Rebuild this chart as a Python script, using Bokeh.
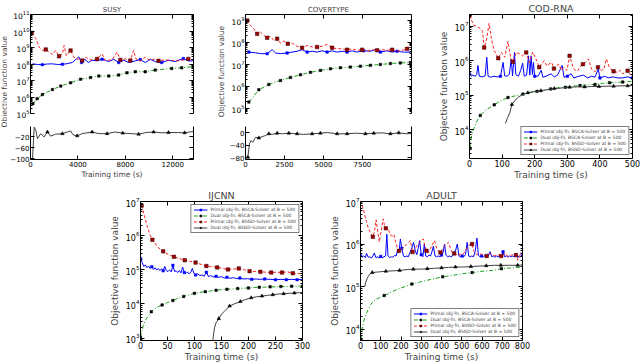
from bokeh.plotting import figure
from bokeh.models import (Range1d, FixedTicker, LinearAxis, LogAxis, Label, Legend, LegendItem, Spacer,
                          CustomJSTickFormatter)
from bokeh.layouts import row, column
from bokeh.embed import file_html
from bokeh.resources import INLINE

FONT = "DejaVu Sans"

# ----------------------------------------------------------------- data
TITLES = ["SUSY", "COVERTYPE", "COD-RNA", "IJCNN", "ADULT"]
XLABEL = "Training time (s)"
YLABEL = "Objective function value"
LEGEND_LABELS = [
    "Primal obj-fn, BSCA-Solver at B = 500",
    "Dual obj-fn, BSCA-Solver at B = 500",
    "Primal obj-fn, BSGD-Solver at B = 500",
    "Dual obj-fn, BSGD-Solver at B = 500",
]

# SUSY (values given as log10 of the objective; bottom panel is linear)
susy_pb_t = [170, 590, 1000, 1420, 1850, 2270, 2690, 3100, 3520, 4080, 4310, 4590, 4870, 5200, 5620, 6040,
             6600, 7020, 7440, 7860, 8280, 8840, 9260, 9680, 10100, 10520, 11070, 11630, 12190, 12890, 13310, 13730]
susy_pb_log10 = [8.01, 7.97, 7.96, 8.0, 8.01, 7.97, 7.98, 8.02, 8.09, 8.43, 8.09, 8.29, 8.09, 8.23, 8.19, 8.29,
                 8.15, 8.29, 8.09, 8.23, 8.09, 8.19, 8.27, 8.09, 8.29, 8.15, 8.09, 8.23, 8.15, 8.33, 8.19, 8.19]
susy_pb_marks = [1000, 2690, 4310, 6040, 7440, 9260, 11070, 12890]
susy_pg_t = [110, 450, 730, 1010, 1290, 1570, 1850, 2130, 2410, 2690, 2830, 3020, 3380, 3660, 3940, 4360, 4640,
             5060, 5620, 6040, 6320, 6880, 7300, 7580, 8000, 8420, 8700, 8890, 9260, 9680, 10100, 10520, 10800,
             11350, 11910, 12470, 13310, 13730]
susy_pg_log10 = [9.89, 9.53, 9.02, 8.82, 8.88, 8.72, 8.58, 8.82, 8.47, 8.61, 9.12, 8.5, 8.82, 8.41, 8.31, 8.21,
                 8.41, 8.25, 8.31, 8.61, 8.21, 8.25, 8.72, 8.25, 8.31, 8.21, 8.82, 8.31, 8.19, 8.41, 8.21, 8.31,
                 8.19, 8.25, 8.21, 8.19, 8.31, 8.25]
susy_pg_marks = [110, 1290, 2410, 3380, 4360, 5620, 7580, 8420, 10800, 13310]
susy_dc_t = [200, 560, 1010, 1850, 2550, 3380, 4220, 5060, 5760, 6600, 7440, 8140, 8840, 9680, 10520, 11910,
             12750, 13730]
susy_dc_log10 = [5.59, 5.9, 6.15, 6.45, 6.66, 6.86, 7.08, 7.18, 7.27, 7.27, 7.33, 7.47, 7.53, 7.53, 7.63, 7.73,
                 7.77, 7.84]
susy_dc_marks = susy_dc_t
susy_dg_t = [170, 310, 445, 590, 860, 1150, 1430, 1700, 2120, 2690, 3100, 3380, 3580, 3940, 4360, 5200, 5790,
             6460, 7130, 7780, 8560, 9120, 9730, 10380, 11080, 11640, 12420, 13000, 13730]
susy_dg_val = [-100, 16, 4, -26, -8, -20, -2, -17, -10, -8, -2, 2, -12, -16, -8, -2, -8, -8, -2, -6, -8, -10,
               -4, -2, -5, -4, -4, -5, 0]
susy_dg_marks = [1430, 2690, 3940, 5200, 6460, 7780, 9120, 10380, 11640, 13000]

# COVERTYPE
cov_pb_t = [214, 641, 962, 1389, 1709, 1923, 2244, 2671, 3312, 3633, 3953, 4274, 4594, 4915, 5236, 5556, 5877,
            6197, 6518, 6838, 7159, 7586, 8014, 8335, 8655, 9083, 9403, 9724, 10151, 10621]
cov_pb_log10 = [7.56, 7.53, 7.49, 7.49, 7.67, 7.52, 7.49, 7.52, 7.6, 7.67, 7.56, 7.6, 7.56, 7.62, 7.56, 7.62,
                7.56, 7.6, 7.56, 7.62, 7.56, 7.62, 7.6, 7.67, 7.56, 7.62, 7.56, 7.6, 7.56, 7.56]
cov_pb_marks = [214, 1389, 2671, 3953, 5236, 6518, 7586, 8655, 9724]
cov_pg_t = [107, 320, 534, 748, 962, 1175, 1389, 1603, 1816, 2030, 2244, 2457, 2714, 2992, 3312, 3633, 3953,
            4274, 4594, 4915, 5236, 5556, 5877, 6197, 6518, 6838, 7159, 7480, 7800, 8121, 8442, 8762, 9083,
            9403, 9724, 10044, 10365, 10621]
cov_pg_log10 = [9.0, 8.77, 8.62, 8.39, 8.47, 8.32, 8.21, 8.27, 8.09, 8.17, 7.97, 8.06, 7.94, 7.97, 7.82, 7.76,
                7.86, 7.79, 7.79, 7.82, 7.91, 7.76, 7.71, 7.71, 7.67, 7.71, 7.64, 7.67, 7.6, 7.67, 7.64, 7.67,
                7.64, 7.67, 7.6, 7.64, 7.71, 7.79]
cov_pg_marks = [107, 748, 1389, 2030, 2714, 3633, 4594, 5556, 6518, 7480, 8442, 9403, 10365]
cov_dc_t = [214, 855, 1496, 2244, 2885, 3526, 4167, 4808, 5450, 6090, 6730, 7372, 8013, 8654, 9295, 9936, 10577]
cov_dc_log10 = [5.29, 5.85, 6.09, 6.27, 6.41, 6.53, 6.64, 6.73, 6.8, 6.85, 6.88, 6.92, 6.96, 7.0, 7.04, 7.07,
                7.09]
cov_dc_marks = cov_dc_t
cov_dg_t = [150, 256, 363, 470, 641, 855, 1068, 1282, 1496, 1709, 2030, 2350, 2778, 3312, 3740, 4274, 4808,
            5236, 5877, 6518, 7052, 7693, 8228, 8762, 9296, 9830, 10365, 10621]
cov_dg_val = [-78, -36, -25, -31, -15, -17, -13, -9.5, -4, -6, -2, -4, -2, -4, -6, -4, -2, 0, -4, -4, -2, -4,
              -2, -1, -4, -1, -4, -3]
cov_dg_marks = [150, 855, 1496, 2030, 2778, 3312, 4274, 4808, 5877, 6518, 7693, 8228, 9296, 9830]

# COD-RNA
cod_pb_t = [0, 5, 10, 18, 22, 26, 30, 40, 48, 53, 57, 65, 75, 85, 95, 103, 108, 115, 122, 128, 132, 138, 142,
            150, 157, 163, 168, 175, 181, 185, 189, 193, 196, 200, 210, 220, 225, 235, 250, 260, 270, 284, 290,
            300, 312, 320, 335, 350, 362, 375, 385, 395, 400, 415, 425, 440, 455, 470, 485, 500]
cod_pb_log10 = [5.62, 5.55, 5.58, 5.55, 5.6, 5.86, 5.55, 5.53, 5.56, 6.1, 5.55, 5.52, 5.55, 5.53, 5.55, 5.95,
                5.56, 5.55, 5.6, 6.05, 5.56, 6.24, 5.6, 5.55, 5.72, 5.93, 5.55, 5.58, 6.14, 5.58, 6.14, 5.6,
                5.95, 5.55, 5.55, 5.72, 5.52, 5.55, 5.62, 5.53, 5.58, 5.86, 5.52, 5.55, 5.62, 5.5, 5.55, 5.58,
                5.5, 5.55, 5.52, 5.76, 5.5, 5.55, 5.5, 5.53, 5.5, 5.5, 5.53, 5.5]
cod_pb_marks = [0, 95, 200, 300, 400, 500]
cod_pg_t = [0, 6, 13, 20, 27, 33, 40, 45, 52, 60, 68, 75, 82, 88, 98, 108, 118, 128, 133, 143, 153, 163, 174,
            184, 194, 204, 214, 222, 229, 237, 244, 252, 259, 267, 274, 282, 289, 299, 307, 318, 326, 333, 341,
            348, 356, 365, 375, 385, 394, 405, 412, 420, 430, 442, 455, 463, 470, 478, 485, 495, 500]
cod_pg_log10 = [7.31, 7.18, 7.03, 7.0, 6.96, 6.94, 6.85, 6.38, 6.6, 7.08, 6.6, 6.3, 6.2, 6.07, 6.24, 6.1, 6.56,
                6.0, 5.97, 6.24, 6.2, 6.14, 6.24, 5.95, 6.25, 6.05, 5.81, 5.92, 6.0, 5.85, 5.9, 5.95, 5.77, 5.86,
                5.9, 5.72, 5.8, 5.72, 6.14, 5.8, 5.7, 5.72, 5.85, 5.9, 5.95, 6.05, 5.75, 5.68, 5.81, 5.72, 5.75,
                6.05, 5.78, 5.69, 5.66, 5.72, 5.62, 5.66, 5.71, 5.58, 5.56]
cod_pg_marks = [0, 45, 88, 133, 174, 214, 259, 307, 348, 394, 442, 485]
cod_dc_t = [2, 5, 10, 22, 33, 50, 76, 95, 118, 140, 164, 185, 207, 230, 249, 270, 294, 315, 339, 362, 385, 408,
            430, 450, 470, 500]
cod_dc_log10 = [3.45, 3.75, 3.95, 4.23, 4.41, 4.57, 4.72, 4.83, 4.93, 4.98, 5.03, 5.08, 5.11, 5.15, 5.18, 5.21,
                5.23, 5.26, 5.28, 5.3, 5.31, 5.34, 5.36, 5.37, 5.38, 5.4]
cod_dc_marks = [2, 33, 76, 118, 164, 207, 249, 294, 339, 385, 430, 470]
cod_dg_t = [110, 117, 124, 130, 139, 148, 160, 179, 198, 219, 240, 260, 285, 307, 330, 353, 375, 397, 420, 442,
            465, 485, 500]
cod_dg_log10 = [4.18, 4.35, 4.5, 4.73, 4.84, 4.93, 5.0, 5.07, 5.1, 5.13, 5.16, 5.19, 5.21, 5.23, 5.24, 5.24,
                5.25, 5.25, 5.26, 5.26, 5.27, 5.27, 5.28]
cod_dg_marks = [130, 179, 219, 260, 307, 353, 397, 442, 485]

# IJCNN
ij_pb_t = [0, 3, 6, 9, 12, 15, 18, 21, 24, 27, 30, 33, 36, 39, 42, 45, 48, 51, 54, 57, 60, 63, 66, 69, 72, 75,
           78, 81, 84, 87, 90, 93, 96, 99, 102, 106, 110, 114, 118, 122, 126, 130, 135, 140, 145, 150, 155, 160,
           166, 172, 178, 184, 190, 198, 206, 214, 222, 230, 240, 250, 260, 270, 280, 290, 300]
ij_pb_log10 = [5.33, 5.22, 5.1, 5.14, 5.06, 5.11, 5.04, 5.09, 5.01, 5.06, 4.99, 5.04, 4.98, 5.03, 4.97, 5.1,
               4.97, 4.95, 5.0, 4.94, 5.13, 4.95, 4.97, 4.92, 4.98, 4.91, 5.08, 4.92, 4.89, 4.94, 4.88, 4.92,
               5.04, 4.89, 4.85, 4.88, 4.83, 4.85, 4.81, 4.93, 4.8, 4.83, 4.79, 4.81, 4.78, 4.8, 4.76, 4.78,
               4.75, 4.77, 4.74, 4.76, 4.73, 4.74, 4.72, 4.73, 4.72, 4.73, 4.72, 4.71, 4.72, 4.71, 4.72, 4.71,
               4.72]
ij_pb_marks = [0, 21, 42, 60, 81, 102, 122, 140, 160, 184, 206, 230, 250, 270, 290]
ij_pg_t = [2, 7, 12, 17, 22, 32, 42, 52, 62, 72, 82, 92, 102, 112, 122, 132, 142, 152, 162, 172, 182, 192, 202,
           212, 222, 232, 242, 252, 262, 272, 282, 292, 300]
ij_pg_log10 = [6.88, 6.6, 6.3, 6.05, 5.88, 5.66, 5.54, 5.44, 5.38, 5.33, 5.28, 5.25, 5.21, 5.16, 5.11, 5.09,
               5.07, 5.04, 5.01, 5.02, 5.04, 5.0, 4.96, 4.95, 4.94, 4.93, 4.92, 4.93, 4.92, 4.94, 4.9, 4.89, 4.9]
ij_pg_marks = [2, 22, 42, 62, 82, 102, 122, 142, 162, 182, 202, 222, 242, 262, 282]
ij_dc_t = [0, 5, 10, 20, 30, 40, 50, 60, 70, 80, 90, 100, 110, 120, 130, 140, 150, 160, 170, 180, 190, 200, 210,
           220, 230, 240, 250, 260, 270, 280, 290, 300]
ij_dc_log10 = [3.02, 3.37, 3.55, 3.77, 3.9, 3.97, 4.04, 4.1, 4.17, 4.22, 4.27, 4.31, 4.34, 4.36, 4.38, 4.4,
               4.42, 4.43, 4.44, 4.45, 4.46, 4.47, 4.48, 4.49, 4.49, 4.5, 4.5, 4.51, 4.51, 4.52, 4.52, 4.52]
ij_dc_marks = [0, 20, 40, 60, 80, 100, 120, 140, 160, 180, 200, 220, 240, 260, 280, 300]
ij_dg_t = [134, 137, 140, 145, 150, 155, 165, 175, 185, 195, 205, 215, 225, 235, 245, 255, 265, 275, 285, 295,
           300]
ij_dg_log10 = [2.95, 3.3, 3.45, 3.57, 3.7, 3.78, 3.94, 4.01, 4.07, 4.13, 4.18, 4.21, 4.23, 4.25, 4.27, 4.29,
               4.3, 4.31, 4.32, 4.33, 4.34]
ij_dg_marks = [145, 165, 185, 205, 225, 245, 265, 285]

# ADULT
ad_pb_t = [0, 8, 16, 24, 30, 38, 46, 54, 62, 68, 76, 84, 92, 100, 108, 116, 124, 130, 136, 144, 152, 160, 168,
           176, 184, 190, 197, 204, 212, 220, 228, 236, 244, 252, 262, 270, 278, 285, 292, 300, 308, 315, 322,
           330, 338, 346, 353, 360, 368, 376, 384, 392, 400, 408, 415, 422, 430, 438, 446, 454, 462, 470, 478,
           486, 494, 502, 510, 518, 527, 534, 542, 550, 558, 566, 575, 582, 590, 598, 606, 614, 622, 630, 640,
           648, 656, 664, 672, 680, 688, 696, 704, 712, 720, 728, 736, 744, 752, 760, 768, 776, 784, 792, 800]
ad_pb_log10 = [5.73, 5.69, 5.72, 5.68, 5.78, 5.69, 5.7, 5.67, 5.72, 5.79, 5.68, 5.7, 5.67, 5.71, 5.68, 5.7,
               5.72, 6.23, 5.72, 5.68, 5.7, 5.69, 5.73, 5.72, 5.86, 5.8, 6.12, 5.9, 5.72, 5.7, 5.72, 5.7, 5.8,
               5.88, 6.04, 5.85, 5.75, 5.9, 6.08, 5.75, 5.7, 6.0, 5.72, 5.7, 5.74, 5.72, 5.82, 5.95, 5.72, 5.7,
               5.72, 5.7, 5.74, 5.8, 6.0, 5.74, 5.7, 5.72, 5.7, 5.72, 5.8, 5.86, 6.0, 5.72, 5.7, 5.72, 5.7, 5.75,
               6.04, 5.72, 5.7, 5.72, 5.7, 5.82, 6.14, 5.74, 5.7, 5.72, 5.7, 5.73, 5.7, 5.72, 5.82, 5.7, 5.72,
               5.69, 5.72, 5.7, 5.72, 5.7, 5.82, 5.7, 5.72, 5.69, 5.72, 5.7, 5.72, 5.7, 5.78, 5.68, 5.72, 5.7,
               5.74]
ad_pb_marks = [0, 100, 204, 300, 400, 502, 598, 704, 800]
ad_pg_t = [0, 7, 13, 20, 29, 37, 45, 53, 61, 69, 77, 85, 93, 102, 112, 118, 125, 135, 145, 155, 165, 173, 181,
           190, 198, 208, 218, 228, 237, 246, 257, 267, 277, 287, 298, 310, 318, 326, 336, 346, 356, 366, 376,
           386, 395, 405, 414, 424, 434, 444, 453, 463, 473, 483, 493, 503, 513, 523, 533, 543, 551, 558, 566,
           576, 586, 596, 606, 616, 623, 633, 643, 653, 663, 673, 683, 695, 705, 715, 725, 735, 745, 755, 768,
           776, 784, 792, 800]
ad_pg_log10 = [7.02, 6.92, 6.83, 6.7, 6.53, 6.4, 6.31, 6.22, 6.17, 6.3, 6.57, 6.3, 6.05, 6.3, 6.59, 6.45, 6.37,
               6.37, 6.25, 6.18, 6.22, 6.05, 5.93, 5.84, 5.84, 5.9, 5.95, 6.0, 6.04, 6.08, 5.81, 5.86, 5.95,
               6.02, 6.06, 6.12, 5.95, 5.84, 5.8, 5.9, 6.0, 6.08, 5.9, 5.82, 5.8, 5.88, 5.95, 6.0, 6.04, 5.9,
               5.8, 5.78, 5.75, 5.74, 5.76, 5.74, 5.8, 5.88, 5.95, 6.0, 6.0, 5.85, 5.78, 5.75, 5.78, 5.76, 5.74,
               5.72, 5.72, 5.75, 5.78, 5.74, 5.72, 5.75, 5.74, 5.72, 5.75, 5.78, 5.72, 5.7, 5.74, 5.76, 5.74,
               5.62, 5.68, 5.8, 5.76]
ad_pg_marks = [0, 61, 125, 190, 257, 326, 395, 463, 551, 623, 695, 768]
ad_dc_t = [3, 6, 10, 15, 22, 30, 40, 51, 65, 80, 100, 117, 140, 165, 190, 220, 254, 290, 330, 370, 406, 450,
           500, 551, 600, 650, 696, 750, 800]
ad_dc_log10 = [3.75, 3.94, 4.05, 4.17, 4.28, 4.38, 4.48, 4.58, 4.66, 4.71, 4.75, 4.79, 4.84, 4.9, 4.95, 5.0,
               5.06, 5.1, 5.15, 5.19, 5.23, 5.26, 5.3, 5.33, 5.36, 5.38, 5.42, 5.44, 5.46]
ad_dc_marks = [3, 117, 254, 406, 551, 696]
ad_dg_t = [21, 26, 32, 38, 45, 58, 80, 100, 125, 160, 193, 230, 261, 300, 330, 365, 400, 435, 469, 510, 545,
           580, 621, 660, 693, 735, 776, 800]
ad_dg_log10 = [5.0, 5.1, 5.18, 5.24, 5.29, 5.33, 5.34, 5.35, 5.36, 5.37, 5.38, 5.4, 5.41, 5.41, 5.42, 5.43,
               5.44, 5.45, 5.46, 5.46, 5.47, 5.48, 5.49, 5.5, 5.5, 5.5, 5.5, 5.51]
ad_dg_marks = [58, 125, 193, 261, 330, 400, 469, 545, 621, 693, 776]

# axis ticks
susy_xticks = [0, 4000, 8000, 12000]
cov_xticks = [0, 2500, 5000, 7500]
cod_xticks = [0, 100, 200, 300, 400, 500]
ij_xticks = [0, 50, 100, 150, 200, 250, 300]
ad_xticks = [0, 100, 200, 300, 400, 500, 600, 700, 800]
susy_ydecades = [5, 6, 7, 8, 9, 10, 11]
cov_ydecades = [5, 6, 7, 8, 9]
cod_ydecades = [4, 5, 6, 7]
ij_ydecades = [3, 4, 5, 6, 7]
ad_ydecades = [4, 5, 6, 7]
susy_low_ticks = [-100, -60, -20]
cov_low_ticks = [-80, -40, 0]

# ----------------------------------------------------------------- styling
STYLE = {
    "pb": dict(color="#0000ff", dash="solid", marker="square", size=2.5, fill="#0000ff", edge="#0000ff"),
    "dc": dict(color="#18a018", dash="4 2 1 2", marker="square", size=2.5, fill="black", edge="black"),
    "pg": dict(color="#ff2020", dash="3 2", marker="square", size=3.5, fill="#a00000", edge="#300000"),
    "dg": dict(color="#404040", dash="solid", marker="triangle", size=3.5, fill="black", edge="black"),
}


def log_ticker(decades):
    minors = [m * 10.0 ** d for d in range(decades[0] - 1, decades[-1] + 1) for m in range(2, 10)]
    return FixedTicker(ticks=[10.0 ** d for d in decades], minor_ticks=minors)


def style_axis(ax, ticker, px, labels=True):
    ax.ticker = ticker
    ax.major_tick_in = 4
    ax.major_tick_out = 0
    ax.minor_tick_in = 2
    ax.minor_tick_out = 0
    ax.axis_line_color = "black"
    ax.axis_line_width = 1
    ax.major_tick_line_color = "black"
    ax.minor_tick_line_color = "black"
    ax.major_label_text_font = FONT
    ax.major_label_text_color = "black"
    ax.axis_label_text_font = FONT
    ax.axis_label_text_font_style = "normal"
    ax.axis_label_standoff = 0
    if labels:
        ax.major_label_text_font_size = f"{px}px"
        ax.major_label_standoff = 1
    else:
        ax.formatter = CustomJSTickFormatter(code="return ''")
        ax.major_label_text_font_size = "1px"
        ax.major_label_standoff = 0


def panel(width, height, b, xr, yr, ylog, xticks, yticker, px, ypx=None, top_spine=True, bottom_spine=True,
          xlabel=None, ylabel=None, lpx=9, title=None, tpx=9, yover=None):
    p = figure(width=width, height=height, x_range=xr, y_range=yr,
               y_axis_type="log" if ylog else "linear",
               x_axis_location="below" if bottom_spine else None,
               output_backend="svg", toolbar_location=None,
               min_border_left=b[0], min_border_right=b[1], min_border_top=b[2], min_border_bottom=b[3])
    p.outline_line_color = None
    p.xgrid.visible = False
    p.ygrid.visible = False
    p.background_fill_color = "white"
    p.border_fill_color = "white"
    xt = FixedTicker(ticks=xticks, minor_ticks=[])
    if bottom_spine:
        style_axis(p.xaxis[0], xt, px)
        if xlabel:
            p.xaxis[0].axis_label = xlabel
            p.xaxis[0].axis_label_text_font_size = f"{lpx}px"
    style_axis(p.yaxis[0], yticker, ypx or px)
    if yover:
        p.yaxis[0].major_label_overrides = yover
    if ylabel:
        p.yaxis[0].axis_label = ylabel
        p.yaxis[0].axis_label_text_font_size = f"{lpx}px"
        p.yaxis[0].axis_label_standoff = 3
    ra = LogAxis() if ylog else LinearAxis()
    style_axis(ra, yticker, px, labels=False)
    p.add_layout(ra, "right")
    if top_spine:
        ta = LinearAxis()
        style_axis(ta, xt, px, labels=False)
        p.add_layout(ta, "above")
    if title:
        p.title.text = title
        p.title.align = "center"
        p.title.text_font = FONT
        p.title.text_font_style = "normal"
        p.title.text_font_size = f"{tpx}px"
        p.title.standoff = 1
    return p


def draw(p, t, v, kind, marks, log=True):
    s = STYLE[kind]
    y = [10.0 ** e for e in v] if log else list(v)
    ln = p.line(t, y, line_color=s["color"], line_width=1, line_dash=s["dash"])
    ms = set(marks)
    mt = [a for a in t if a in ms]
    my = [b for a, b in zip(t, y) if a in ms]
    mk = p.scatter(mt, my, marker=s["marker"], size=s["size"], fill_color=s["fill"], line_color=s["edge"],
                   line_width=0.5)
    return [ln, mk]


def add_legend(p, groups, loc):
    items = [LegendItem(label=lab, renderers=r) for lab, r in zip(LEGEND_LABELS, groups)]
    lg = Legend(items=items, location=loc, label_text_font=FONT, label_text_font_size="4.5px",
                glyph_height=5, glyph_width=14, label_height=5, label_standoff=3, spacing=1, padding=2,
                margin=3, border_line_color="black", border_line_width=0.6, background_fill_color="white",
                background_fill_alpha=1)
    p.add_layout(lg)


def ylabel_fig(width, height, frac, px):
    f = figure(width=width, height=height, x_range=Range1d(0, 1), y_range=Range1d(0, 1),
               x_axis_type=None, y_axis_type=None, output_backend="svg", toolbar_location=None, min_border=0)
    f.outline_line_color = None
    f.add_layout(Label(x=0.5, y=frac, text=YLABEL, angle=90, angle_units="deg", text_align="center",
                       text_baseline="middle", text_font=FONT, text_font_size=f"{px}px"))
    return f


def minus(vals):
    return {float(v): (("\u2212" + str(abs(v))) if v < 0 else str(v)) for v in vals}


# ----------------------------------------------------------------- SUSY
sx = Range1d(0, 13750)
s_top = panel(209, 119, (21, 23, 14, 6), sx, Range1d(1e5, 1e11), True, susy_xticks, log_ticker(susy_ydecades),
              7, ypx=7.5, bottom_spine=False, title=TITLES[0], tpx=7)
draw(s_top, susy_pb_t, susy_pb_log10, "pb", susy_pb_marks)
draw(s_top, susy_dc_t, susy_dc_log10, "dc", susy_dc_marks)
draw(s_top, susy_pg_t, susy_pg_log10, "pg", susy_pg_marks)
s_bot = panel(209, 63, (21, 23, 7, 23), sx, Range1d(-102, 18), False, susy_xticks,
              FixedTicker(ticks=susy_low_ticks, minor_ticks=[]), 7, top_spine=False, xlabel=XLABEL, lpx=7.5,
              yover=minus(susy_low_ticks))
draw(s_bot, susy_dg_t, susy_dg_val, "dg", susy_dg_marks, log=False)

# ----------------------------------------------------------------- COVERTYPE
cx = Range1d(0, 10650)
c_top = panel(209, 119, (19, 24, 14, 6), cx, Range1d(5.9e4, 1.86e9), True, cov_xticks, log_ticker(cov_ydecades),
              7, ypx=7.5, bottom_spine=False, title=TITLES[1], tpx=7)
draw(c_top, cov_pb_t, cov_pb_log10, "pb", cov_pb_marks)
draw(c_top, cov_dc_t, cov_dc_log10, "dc", cov_dc_marks)
draw(c_top, cov_pg_t, cov_pg_log10, "pg", cov_pg_marks)
c_bot = panel(209, 63, (19, 24, 7, 23), cx, Range1d(-85, 19), False, cov_xticks,
              FixedTicker(ticks=cov_low_ticks, minor_ticks=[]), 7, top_spine=False, yover=minus(cov_low_ticks))
draw(c_bot, cov_dg_t, cov_dg_val, "dg", cov_dg_marks, log=False)

# ----------------------------------------------------------------- COD-RNA
cod = panel(205, 182, (31, 8, 14, 23), Range1d(0, 500), Range1d(1.45e3, 2.19e7), True, cod_xticks,
            log_ticker(cod_ydecades), 8, xlabel=XLABEL, ylabel=YLABEL, lpx=9, title=TITLES[2], tpx=9.5)
g1 = draw(cod, cod_pb_t, cod_pb_log10, "pb", cod_pb_marks)
g2 = draw(cod, cod_dc_t, cod_dc_log10, "dc", cod_dc_marks)
g3 = draw(cod, cod_pg_t, cod_pg_log10, "pg", cod_pg_marks)
g4 = draw(cod, cod_dg_t, cod_dg_log10, "dg", cod_dg_marks)
add_legend(cod, [g1, g2, g3, g4], "bottom_right")

# ----------------------------------------------------------------- IJCNN
ij = panel(220, 182, (30, 24, 19, 23), Range1d(0, 300), Range1d(8.5e2, 1e7), True, ij_xticks,
           log_ticker(ij_ydecades), 8, xlabel=XLABEL, ylabel=YLABEL, lpx=9, title=TITLES[3], tpx=9.5)
h1 = draw(ij, ij_pb_t, ij_pb_log10, "pb", ij_pb_marks)
h2 = draw(ij, ij_dc_t, ij_dc_log10, "dc", ij_dc_marks)
h3 = draw(ij, ij_pg_t, ij_pg_log10, "pg", ij_pg_marks)
h4 = draw(ij, ij_dg_t, ij_dg_log10, "dg", ij_dg_marks)
add_legend(ij, [h1, h2, h3, h4], "top_right")

# ----------------------------------------------------------------- ADULT
ad = panel(206, 182, (30, 10, 19, 22), Range1d(0, 800), Range1d(5.4e3, 1e7), True, ad_xticks,
           log_ticker(ad_ydecades), 8, xlabel=XLABEL, ylabel=YLABEL, lpx=9, title=TITLES[4], tpx=9.5)
k1 = draw(ad, ad_pb_t, ad_pb_log10, "pb", ad_pb_marks)
k2 = draw(ad, ad_dc_t, ad_dc_log10, "dc", ad_dc_marks)
k3 = draw(ad, ad_pg_t, ad_pg_log10, "pg", ad_pg_marks)
k4 = draw(ad, ad_dg_t, ad_dg_log10, "dg", ad_dg_marks)
add_legend(ad, [k1, k2, k3, k4], "bottom_right")

# ----------------------------------------------------------------- layout
lab1 = ylabel_fig(7, 182, 0.533, 7.5)
lab2 = ylabel_fig(10, 182, 0.604, 7.5)
top_row = row(lab1, column(s_top, s_bot), lab2, column(c_top, c_bot), cod)
bot_row = row(Spacer(width=106, height=182), ij, ad)
layout = column(top_row, bot_row)

open("out.html", "w").write(file_html(layout, INLINE, "Objective function value"))
